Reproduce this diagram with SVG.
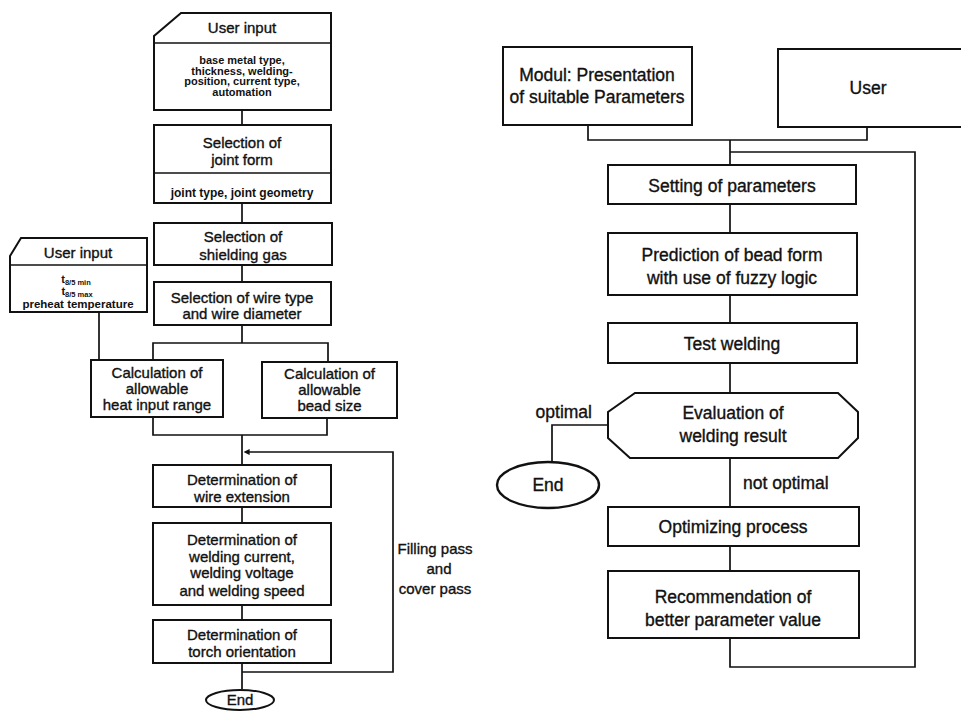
<svg xmlns="http://www.w3.org/2000/svg" width="961" height="711" viewBox="0 0 961 711">
<defs>
<style>
.b{fill:#fff;stroke:#111;stroke-width:2}
.c{fill:none;stroke:#111;stroke-width:1.7}
text{font-family:"Liberation Sans",Arial,sans-serif;fill:#111;text-anchor:middle}
.l{font-size:15px;stroke:#111;stroke-width:0.35}
.s{font-size:11px;font-weight:bold}
.r{font-size:17.5px;stroke:#111;stroke-width:0.35}
</style>
<marker id="ah" viewBox="0 0 10 10" refX="1" refY="5" markerWidth="6" markerHeight="6" orient="auto-start-reverse" markerUnits="userSpaceOnUse">
<path d="M0,0 L10,5 L0,10 Z" fill="#111"/>
</marker>
</defs>
<rect width="961" height="711" fill="#fff"/>

<g id="connectors">
<path class="c" d="M242,110 V125 M242,203 V223 M242,265 V282 M242,325 V343"/>
<path class="c" d="M153,360 V343 H328 V362"/>
<path class="c" d="M99,312 V360"/>
<path class="c" d="M153,417 V435 H327 V418 M242,435 V465"/>
<path class="c" d="M242,507 V523 M242,605 V620 M242,663 V689"/>
<path class="c" d="M242,672 H393 V452 H249" marker-end="url(#ah)"/>
<path class="c" d="M588,125 V140 H867 V127 M730,140 V165"/>
<path class="c" d="M730,204 V233 M730,295 V323 M730,363 V393 M730,458 V507 M730,546 V571"/>
<path class="c" d="M730,638 V667 H915 V152 H730"/>
<path class="c" d="M608,425 H552 V462"/>
</g>

<g id="userinput1">
<path class="b" d="M181,13 H331 V110 H154 V36 Z"/>
<path class="c" d="M154,43 H331"/>
<text class="l" x="242" y="33">User input</text>
<text class="s" x="242" y="64">base metal type,</text>
<text class="s" x="242" y="74.5">thickness, welding-</text>
<text class="s" x="242" y="85">position, current type,</text>
<text class="s" x="242" y="95.5">automation</text>
</g>

<g id="jointform">
<rect class="b" x="154" y="125" width="177" height="78"/>
<path class="c" d="M154,173 H331"/>
<text class="l" x="242" y="148">Selection of</text>
<text class="l" x="242" y="165">joint form</text>
<text class="s" x="242" y="197" style="font-size:12px">joint type, joint geometry</text>
</g>

<g id="shieldinggas">
<rect class="b" x="154" y="223" width="178" height="42"/>
<text class="l" x="243" y="242">Selection of</text>
<text class="l" x="243" y="260">shielding gas</text>
</g>

<g id="wiretype">
<rect class="b" x="154" y="282" width="177" height="43"/>
<text class="l" x="242" y="303">Selection of wire type</text>
<text class="l" x="242" y="319">and wire diameter</text>
</g>

<g id="userinput2">
<path class="b" d="M21,238 H147 V312 H10 V256 Z"/>
<path class="c" d="M10,265 H147"/>
<text class="l" x="78" y="258">User input</text>
<text class="s" x="76" y="283">t<tspan font-size="7.5" dy="2">8/5 min</tspan></text>
<text class="s" x="77" y="295">t<tspan font-size="7.5" dy="2">8/5 max</tspan></text>
<text class="s" x="78" y="308" style="font-size:11.5px">preheat temperature</text>
</g>

<g id="heatinput">
<rect class="b" x="91" y="360" width="132" height="57"/>
<text class="l" x="157" y="378">Calculation of</text>
<text class="l" x="157" y="394">allowable</text>
<text class="l" x="157" y="410">heat input range</text>
</g>

<g id="beadsize">
<rect class="b" x="262" y="362" width="135" height="56"/>
<text class="l" x="329.5" y="379">Calculation of</text>
<text class="l" x="329.5" y="395">allowable</text>
<text class="l" x="329.5" y="411">bead size</text>
</g>

<g id="wireextension">
<rect class="b" x="153" y="465" width="178" height="42"/>
<text class="l" x="242" y="485">Determination of</text>
<text class="l" x="242" y="502">wire extension</text>
</g>

<g id="weldingcurrent">
<rect class="b" x="153" y="523" width="178" height="82"/>
<text class="l" x="242" y="545">Determination of</text>
<text class="l" x="242" y="562">welding current,</text>
<text class="l" x="242" y="578">welding voltage</text>
<text class="l" x="242" y="596">and welding speed</text>
</g>

<g id="torch">
<rect class="b" x="153" y="620" width="178" height="43"/>
<text class="l" x="242" y="640">Determination of</text>
<text class="l" x="242" y="657">torch orientation</text>
</g>

<g id="end1">
<ellipse class="b" cx="240" cy="700" rx="34" ry="10"/>
<text class="l" x="240" y="705">End</text>
</g>

<g id="loop-label">
<text class="l" x="435" y="554">Filling pass</text>
<text class="l" x="439" y="574">and</text>
<text class="l" x="435" y="594">cover pass</text>
</g>

<g id="modul">
<rect class="b" x="503" y="47" width="189" height="78"/>
<text class="r" x="597" y="81">Modul: Presentation</text>
<text class="r" x="597" y="103">of suitable Parameters</text>
</g>

<g id="user">
<rect class="b" x="778" y="49" width="190" height="78"/>
<text class="r" x="868" y="94">User</text>
</g>

<g id="setting">
<rect class="b" x="608" y="165" width="248" height="39"/>
<text class="r" x="732" y="192">Setting of parameters</text>
</g>

<g id="prediction">
<rect class="b" x="608" y="233" width="249" height="62"/>
<text class="r" x="732" y="261">Prediction of bead form</text>
<text class="r" x="732" y="284">with use of fuzzy logic</text>
</g>

<g id="testwelding">
<rect class="b" x="608" y="323" width="249" height="40"/>
<text class="r" x="732" y="350">Test welding</text>
</g>

<g id="evaluation">
<path class="b" d="M635,393 H838 L858,412 V438 L838,458 H630 L608,438 V412 Z"/>
<text class="r" x="733" y="419">Evaluation of</text>
<text class="r" x="733" y="442">welding result</text>
</g>

<g id="labels-right">
<text class="r" x="592" y="418" style="text-anchor:end">optimal</text>
<text class="r" x="743" y="489" style="text-anchor:start">not optimal</text>
</g>

<g id="end2">
<ellipse class="b" cx="548" cy="485" rx="51" ry="23" style="stroke-width:2.4"/>
<text class="r" x="548" y="491">End</text>
</g>

<g id="optimizing">
<rect class="b" x="608" y="507" width="251" height="39"/>
<text class="r" x="733" y="533">Optimizing process</text>
</g>

<g id="recommendation">
<rect class="b" x="608" y="571" width="251" height="67"/>
<text class="r" x="733" y="603">Recommendation of</text>
<text class="r" x="733" y="626">better parameter value</text>
</g>
</svg>
